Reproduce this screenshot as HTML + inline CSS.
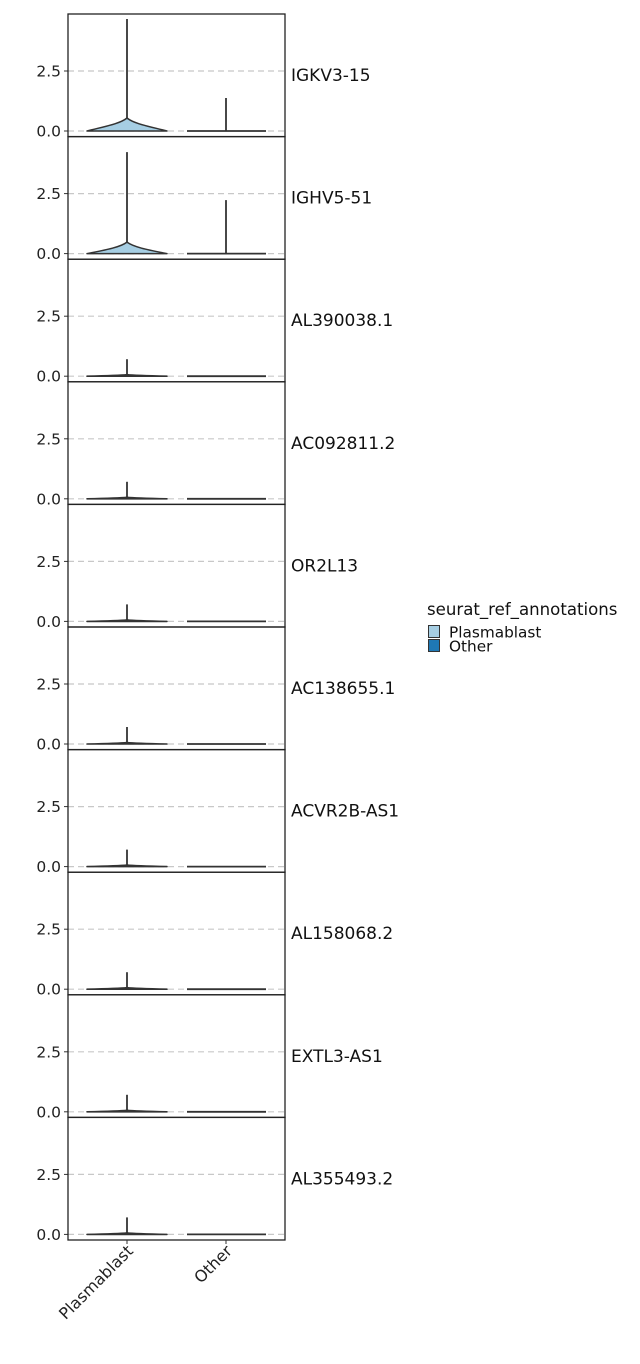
<!DOCTYPE html>
<html><head><meta charset="utf-8"><style>
body{margin:0;background:#fff}
svg{display:block;font-family:"DejaVu Sans","Liberation Sans",sans-serif}
</style></head><body>
<svg width="640" height="1364" viewBox="0 0 640 1364" xmlns="http://www.w3.org/2000/svg">
<defs>
<g id="frame">
  <line x1="68" x2="285" y1="57" y2="57" stroke="#c8c8c8" stroke-width="1.2" stroke-dasharray="6,4"/>
  <line x1="68" x2="285" y1="117" y2="117" stroke="#c8c8c8" stroke-width="1.2" stroke-dasharray="6,4"/>
  <line x1="64" x2="68" y1="57" y2="57" stroke="#333"/>
  <line x1="64" x2="68" y1="117" y2="117" stroke="#333"/>
  <text x="61" y="62.5" font-size="15.5" text-anchor="end" fill="#222">2.5</text>
  <text x="61" y="122.5" font-size="15.5" text-anchor="end" fill="#222">0.0</text>
</g>
<g id="small">
  <path d="M87,117 C105,116.6 120,116.2 127,115.5 C134,116.2 149,116.6 167,117 Z" fill="#a6cee3" stroke="#333" stroke-width="1.6" stroke-linejoin="round"/>
  <line x1="127" x2="127" y1="115.5" y2="100" stroke="#333" stroke-width="1.8"/>
  <line x1="187" x2="266" y1="117" y2="117" stroke="#333" stroke-width="1.8"/>
</g>
</defs>

<g transform="translate(0,14)">
  <use href="#frame"/>
  <path d="M87,117 C102,113 120,110 127,104 C134,110 152,113 167,117 Z" fill="#a6cee3" stroke="#333" stroke-width="1.5" stroke-linejoin="round"/>
  <line x1="127" x2="127" y1="104" y2="5" stroke="#333" stroke-width="1.8"/>
  <line x1="187" x2="266" y1="117" y2="117" stroke="#333" stroke-width="1.8"/>
  <line x1="226" x2="226" y1="117" y2="84" stroke="#333" stroke-width="1.8"/>
  <rect x="68" y="0" width="217" height="122.6" fill="none" stroke="#222" stroke-width="1.3"/>
  <text x="291" y="67" font-size="17" fill="#111">IGKV3-15</text>
</g>
<g transform="translate(0,136.6)">
  <use href="#frame"/>
  <path d="M87,117 C102,114 120,111 127,105.5 C134,111 152,114 167,117 Z" fill="#a6cee3" stroke="#333" stroke-width="1.5" stroke-linejoin="round"/>
  <line x1="127" x2="127" y1="105.5" y2="15.5" stroke="#333" stroke-width="1.8"/>
  <line x1="187" x2="266" y1="117" y2="117" stroke="#333" stroke-width="1.8"/>
  <line x1="226" x2="226" y1="117" y2="63.5" stroke="#333" stroke-width="1.8"/>
  <rect x="68" y="0" width="217" height="122.6" fill="none" stroke="#222" stroke-width="1.3"/>
  <text x="291" y="67" font-size="17" fill="#111">IGHV5-51</text>
</g>
<g transform="translate(0,259.2)"><use href="#frame"/><use href="#small"/><rect x="68" y="0" width="217" height="122.6" fill="none" stroke="#222" stroke-width="1.3"/><text x="291" y="67" font-size="17" fill="#111">AL390038.1</text></g>
<g transform="translate(0,381.8)"><use href="#frame"/><use href="#small"/><rect x="68" y="0" width="217" height="122.6" fill="none" stroke="#222" stroke-width="1.3"/><text x="291" y="67" font-size="17" fill="#111">AC092811.2</text></g>
<g transform="translate(0,504.4)"><use href="#frame"/><use href="#small"/><rect x="68" y="0" width="217" height="122.6" fill="none" stroke="#222" stroke-width="1.3"/><text x="291" y="67" font-size="17" fill="#111">OR2L13</text></g>
<g transform="translate(0,627)"><use href="#frame"/><use href="#small"/><rect x="68" y="0" width="217" height="122.6" fill="none" stroke="#222" stroke-width="1.3"/><text x="291" y="67" font-size="17" fill="#111">AC138655.1</text></g>
<g transform="translate(0,749.6)"><use href="#frame"/><use href="#small"/><rect x="68" y="0" width="217" height="122.6" fill="none" stroke="#222" stroke-width="1.3"/><text x="291" y="67" font-size="17" fill="#111">ACVR2B-AS1</text></g>
<g transform="translate(0,872.2)"><use href="#frame"/><use href="#small"/><rect x="68" y="0" width="217" height="122.6" fill="none" stroke="#222" stroke-width="1.3"/><text x="291" y="67" font-size="17" fill="#111">AL158068.2</text></g>
<g transform="translate(0,994.8)"><use href="#frame"/><use href="#small"/><rect x="68" y="0" width="217" height="122.6" fill="none" stroke="#222" stroke-width="1.3"/><text x="291" y="67" font-size="17" fill="#111">EXTL3-AS1</text></g>
<g transform="translate(0,1117.4)"><use href="#frame"/><use href="#small"/><rect x="68" y="0" width="217" height="122.6" fill="none" stroke="#222" stroke-width="1.3"/><text x="291" y="67" font-size="17" fill="#111">AL355493.2</text></g>

<line x1="127" x2="127" y1="1240" y2="1244" stroke="#333"/>
<line x1="226" x2="226" y1="1240" y2="1244" stroke="#333"/>
<text transform="translate(134,1252) rotate(-45)" font-size="16" text-anchor="end" fill="#222">Plasmablast</text>
<text transform="translate(233,1252) rotate(-45)" font-size="16" text-anchor="end" fill="#222">Other</text>

<text x="427" y="615" font-size="16.6" fill="#111">seurat_ref_annotations</text>
<rect x="428.5" y="625.5" width="11" height="12" fill="#a6cee3" stroke="#333" stroke-width="1"/>
<rect x="428.5" y="639.5" width="11" height="12" fill="#1f78b4" stroke="#333" stroke-width="1"/>
<text x="449" y="637.5" font-size="15.3" fill="#111">Plasmablast</text>
<text x="449" y="651.5" font-size="15.3" fill="#111">Other</text>
</svg>
</body></html>
